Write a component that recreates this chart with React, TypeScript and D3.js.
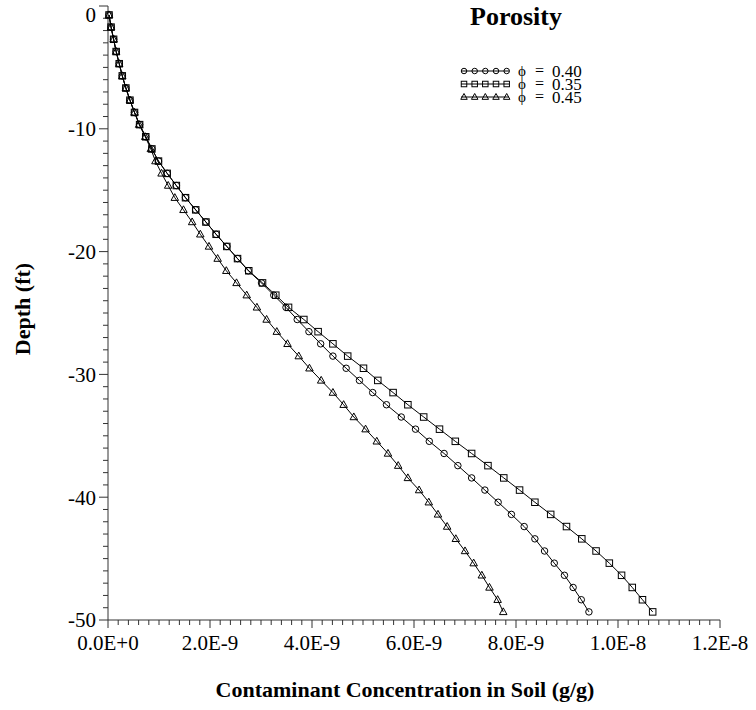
import React from "react";
import * as d3 from "d3";

// Depth of each sample (ft, negative downward)
const depths: number[] = [
  -0.73, -1.72, -2.71, -3.71, -4.70, -5.69, -6.68, -7.67, -8.67, -9.66,
  -10.65, -11.64, -12.63, -13.63, -14.62, -15.61, -16.60, -17.59, -18.59, -19.58,
  -20.57, -21.56, -22.55, -23.55, -24.54, -25.53, -26.52, -27.51, -28.51, -29.50,
  -30.49, -31.48, -32.47, -33.47, -34.46, -35.45, -36.44, -37.43, -38.43, -39.42,
  -40.41, -41.40, -42.39, -43.39, -44.38, -45.37, -46.36, -47.35, -48.35, -49.34,
];

// Concentrations in units of 1E-9 g/g
const phi040: number[] = [
  0.02, 0.06, 0.11, 0.16, 0.22, 0.28, 0.35, 0.43, 0.52, 0.62,
  0.74, 0.86, 0.99, 1.16, 1.34, 1.52, 1.72, 1.92, 2.12, 2.33,
  2.54, 2.75, 3.01, 3.25, 3.49, 3.71, 3.94, 4.17, 4.41, 4.67,
  4.93, 5.19, 5.46, 5.75, 6.03, 6.30, 6.59, 6.86, 7.13, 7.39,
  7.65, 7.91, 8.16, 8.37, 8.56, 8.75, 8.95, 9.12, 9.28, 9.43,
];
const phi035: number[] = [
  0.02, 0.06, 0.11, 0.16, 0.22, 0.28, 0.35, 0.43, 0.52, 0.62,
  0.74, 0.86, 0.99, 1.16, 1.34, 1.52, 1.72, 1.92, 2.12, 2.33,
  2.54, 2.76, 3.03, 3.29, 3.54, 3.84, 4.12, 4.41, 4.70, 5.01,
  5.29, 5.59, 5.88, 6.19, 6.50, 6.81, 7.13, 7.45, 7.76, 8.07,
  8.37, 8.68, 8.99, 9.29, 9.57, 9.83, 10.07, 10.28, 10.48, 10.68,
];
const phi045: number[] = [
  0.02, 0.06, 0.11, 0.16, 0.22, 0.28, 0.35, 0.43, 0.52, 0.61,
  0.73, 0.84, 0.93, 1.05, 1.18, 1.31, 1.48, 1.65, 1.81, 1.98,
  2.15, 2.32, 2.52, 2.72, 2.92, 3.11, 3.31, 3.52, 3.74, 3.95,
  4.18, 4.41, 4.62, 4.82, 5.05, 5.27, 5.49, 5.69, 5.88, 6.10,
  6.29, 6.47, 6.65, 6.82, 7.00, 7.17, 7.33, 7.48, 7.64, 7.75,
];

const xTickValues: number[] = [0, 2e-9, 4e-9, 6e-9, 8e-9, 1e-8, 1.2e-8];
const xTickLabels: string[] = ["0.0E+0", "2.0E-9", "4.0E-9", "6.0E-9", "8.0E-9", "1.0E-8", "1.2E-8"];
const yTickValues: number[] = [0, -10, -20, -30, -40, -50];
const yTickLabels: string[] = ["0", "-10", "-20", "-30", "-40", "-50"];

const seriesNames: string[] = ["0.40", "0.35", "0.45"];
const seriesMarkers: string[] = ["circle", "square", "triangle"];
const seriesValues: number[][] = [phi040, phi035, phi045];

const FONT = "'Liberation Serif', 'Times New Roman', Times, serif";

function Marker({ kind, x, y, s }: { kind: string; x: number; y: number; s: number }) {
  if (kind === "circle") return <circle cx={x} cy={y} r={s * 0.5} fill="none" stroke="#000" strokeWidth={1} />;
  if (kind === "square")
    return <rect x={x - s / 2} y={y - s / 2} width={s} height={s} fill="none" stroke="#000" strokeWidth={1} />;
  const h = s * 0.9;
  const p = `M${x},${y - h * 0.6}L${x + s / 2},${y + h * 0.4}L${x - s / 2},${y + h * 0.4}Z`;
  return <path d={p} fill="none" stroke="#000" strokeWidth={1} />;
}

export default function App() {
  const W = 756, H = 710;
  const x = d3.scaleLinear().domain([0, 1.2e-8]).range([108, 720]);
  const y = d3.scaleLinear().domain([0, -50]).range([6, 620]);
  const xMinor = d3.range(0, 61).map((i) => i * 2e-10);
  const yMinor = d3.range(0, 51).map((i) => -i);
  const line = d3
    .line<[number, number]>()
    .x((d) => x(d[0] * 1e-9))
    .y((d) => y(d[1]));
  const axisColor = "#333";

  return (
    <svg width={W} height={H} style={{ position: "absolute", left: 0, top: 0, background: "#fff" }} fontFamily={FONT}>
      <rect x={0} y={0} width={W} height={H} fill="#fff" />
      {/* axes */}
      <line x1={x(0)} x2={x(0)} y1={y(0)} y2={y(-50)} stroke={axisColor} strokeWidth={1} />
      <line x1={x(0)} x2={x(1.2e-8)} y1={y(-50)} y2={y(-50)} stroke={axisColor} strokeWidth={1} />
      {yMinor.map((v) => (
        <line key={"ym" + v} x1={x(0) - (v % 10 === 0 ? 9 : 5)} x2={x(0)} y1={y(v)} y2={y(v)} stroke={axisColor} strokeWidth={1} />
      ))}
      {xMinor.map((v, i) => (
        <line key={"xm" + i} x1={x(v)} x2={x(v)} y1={y(-50)} y2={y(-50) + (i % 10 === 0 ? 8 : 5)} stroke={axisColor} strokeWidth={1} />
      ))}
      {yTickValues.map((v, i) => (
        <text key={"yl" + v} x={x(0) - 12} y={Math.max(y(v), 15)} dy="0.35em" textAnchor="end" fontSize={21} fill="#000">
          {yTickLabels[i]}
        </text>
      ))}
      {xTickValues.map((v, i) => (
        <text key={"xl" + i} x={x(v)} y={650} textAnchor="middle" fontSize={21} fill="#000">
          {xTickLabels[i]}
        </text>
      ))}
      <text x={405} y={697} textAnchor="middle" fontSize={22} fontWeight="bold" fill="#000">
        Contaminant Concentration in Soil (g/g)
      </text>
      <text transform="translate(30,309) rotate(-90)" textAnchor="middle" fontSize={22} fontWeight="bold" fill="#000">
        Depth (ft)
      </text>
      {/* series */}
      {seriesValues.map((vals, si) => {
        const pts: [number, number][] = vals.map((v, i) => [v, depths[i]]);
        return (
          <g key={"s" + si}>
            <path d={line(pts) || ""} fill="none" stroke="#000" strokeWidth={1} />
            {pts.map((p, i) => (
              <Marker key={i} kind={seriesMarkers[si]} x={x(p[0] * 1e-9)} y={y(p[1])} s={seriesMarkers[si] === "triangle" ? 7.5 : 6.5} />
            ))}
          </g>
        );
      })}
      {/* legend */}
      <text x={516} y={25} textAnchor="middle" fontSize={26} fontWeight="bold" fill="#000">
        Porosity
      </text>
      {seriesNames.map((name, i) => {
        const ry = 71 + i * 13;
        const mx = [464, 474.7, 485.3, 496, 506.7];
        return (
          <g key={"lg" + i}>
            <line x1={461} x2={509} y1={ry} y2={ry} stroke="#000" strokeWidth={1} />
            {mx.map((m, j) => (
              <Marker key={j} kind={seriesMarkers[i]} x={m} y={ry} s={seriesMarkers[i] === "triangle" ? 6.5 : 5.5} />
            ))}
            <text x={518} y={ry + 5} fontSize={15} fill="#000">ϕ</text>
            <text x={535} y={ry + 5} fontSize={16} fill="#000">=</text>
            <text x={552} y={ry + 6} fontSize={17} fill="#000">{name}</text>
          </g>
        );
      })}
    </svg>
  );
}
